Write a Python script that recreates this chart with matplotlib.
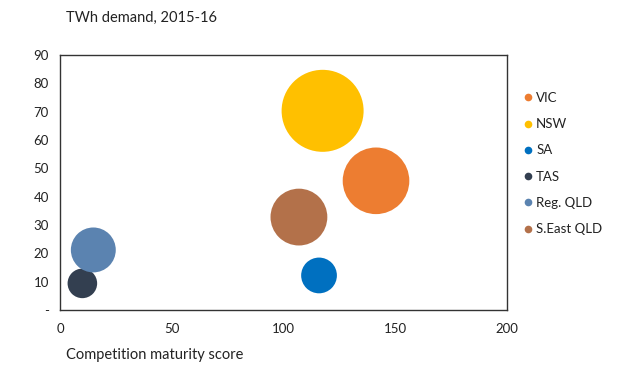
import numpy as np
import matplotlib.pyplot as plt
from matplotlib.lines import Line2D

plt.rcParams['font.family'] = ['Lato', 'DejaVu Sans']

# regions, in legend order
regions = ['VIC', 'NSW', 'SA', 'TAS', 'Reg. QLD', 'S.East QLD']
maturity = [141.4, 117.5, 115.9, 10.0, 14.9, 106.9]
demand = [45.6, 70.3, 12.2, 9.4, 21.2, 32.8]
bubble = [66, 100, 19, 13, 30, 48]
colors = ['#ED7D31', '#FFC000', '#0070C0', '#333F50', '#5B83B0', '#B3714A']

x_ticks = [0, 50, 100, 150, 200]
y_ticks = [0, 10, 20, 30, 40, 50, 60, 70, 80, 90]
y_labels = ['-', '10', '20', '30', '40', '50', '60', '70', '80', '90']

dpi = 100
fig = plt.figure(figsize=(6.2, 3.76), dpi=dpi)
ax = fig.add_axes([0.0968, 0.1755, 0.7209, 0.6782])

# largest bubble about 41 px radius, area proportional to size
max_r_px = 41
for name, x, y, b, c in zip(regions, maturity, demand, bubble, colors):
    r_pt = max_r_px * np.sqrt(b / max(bubble)) * 72 / dpi
    ax.scatter(x, y, s=(2 * r_pt) ** 2, color=c, edgecolors='none', zorder=3)

ax.set_xlim(0, 200)
ax.set_ylim(0, 90)
ax.set_xticks(x_ticks)
ax.set_yticks(y_ticks)
ax.set_yticklabels(y_labels)
ax.tick_params(length=0, labelsize=9.5, colors='#222222', pad=8)
ax.tick_params(axis='x', pad=9)
for sp in ax.spines.values():
    sp.set_color('#333333')
    sp.set_linewidth(1)

fig.text(0.106, 0.952, 'TWh demand, 2015-16', fontsize=10.5, color='#222222', va='center')
fig.text(0.106, 0.056, 'Competition maturity score', fontsize=10.5, color='#222222', va='center')

handles = [Line2D([], [], marker='o', linestyle='none', markersize=5.5,
                  markerfacecolor=c, markeredgecolor='none') for c in colors]
fig.legend(handles, regions, loc='upper left', bbox_to_anchor=(0.835, 0.773),
           frameon=False, fontsize=9.5, handlelength=0.6, handletextpad=0.3,
           labelspacing=1.08, borderpad=0, labelcolor='#222222')

fig.savefig('out.png', dpi=dpi)
